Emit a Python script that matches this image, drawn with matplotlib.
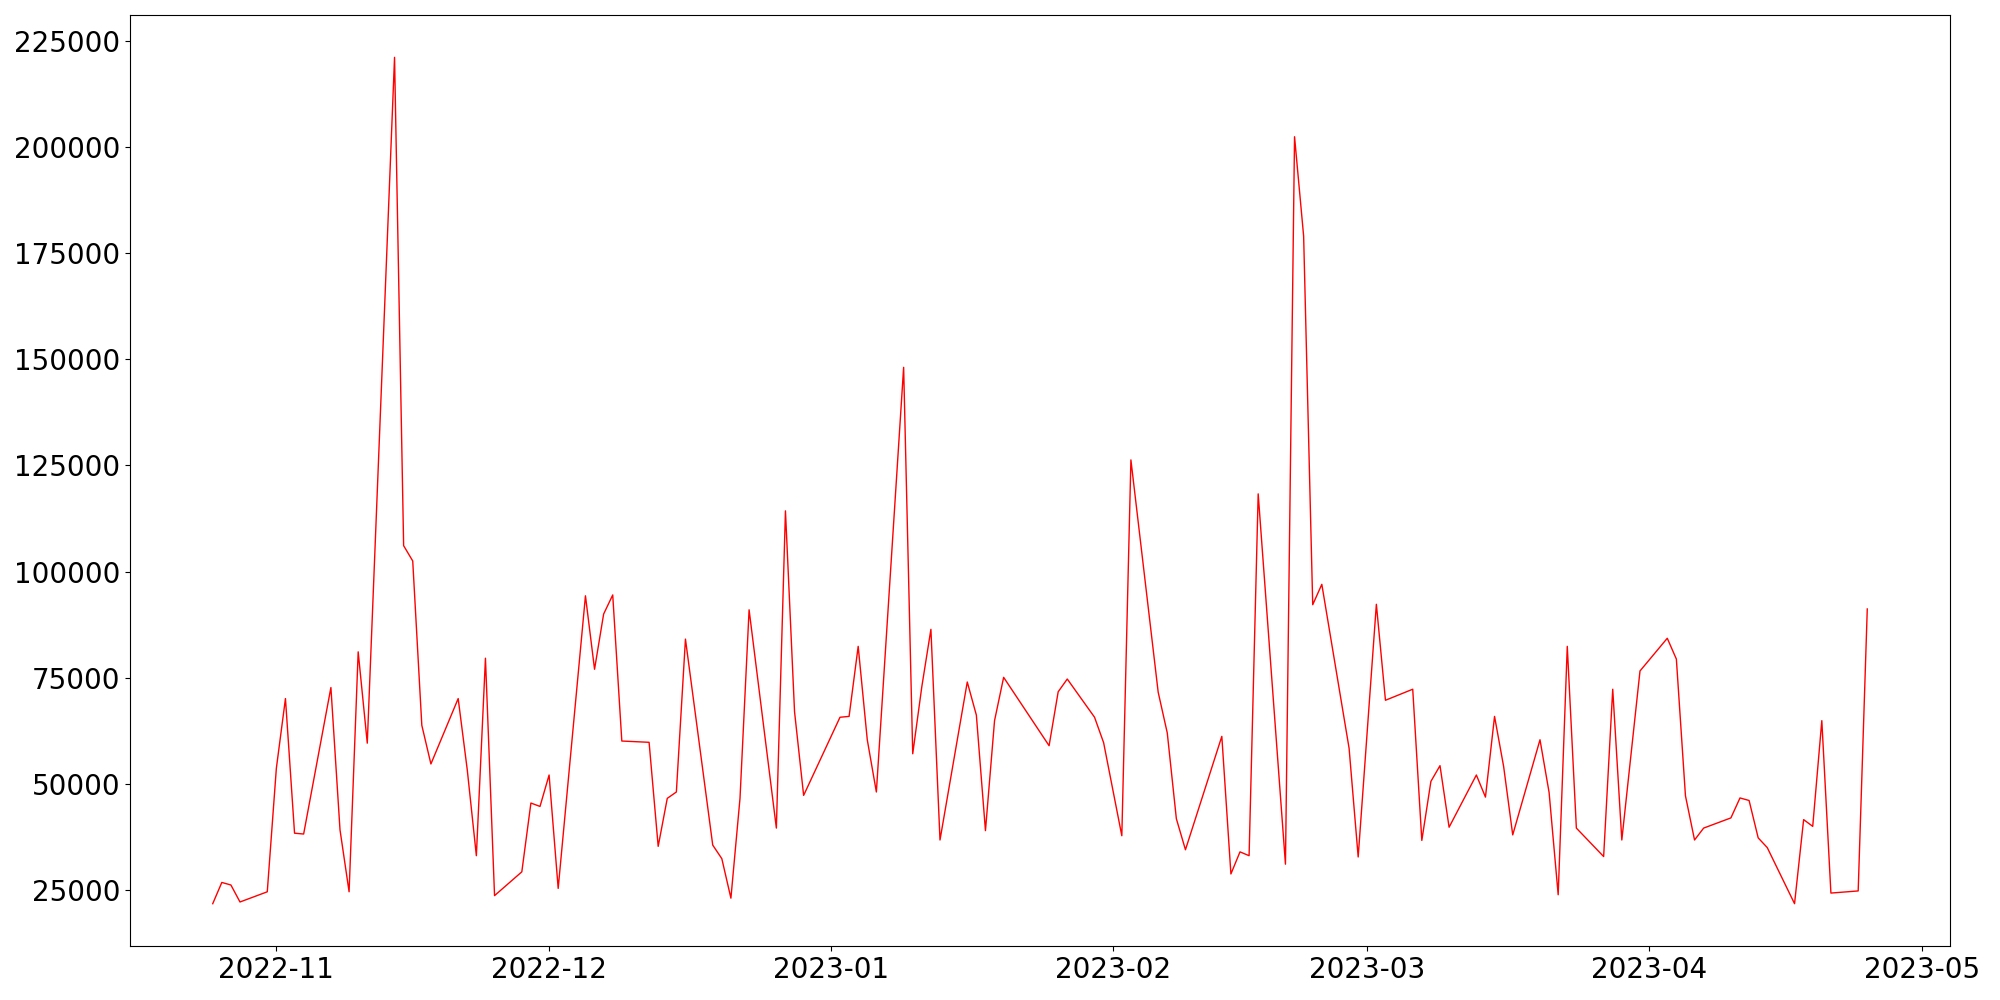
import matplotlib
matplotlib.use("Agg")
import matplotlib.pyplot as plt
import pandas as pd

# daily values (weekdays only, gaps kept as in source)
dates = [
    "2022-10-25", "2022-10-26", "2022-10-27", "2022-10-28", "2022-10-31",
    "2022-11-01", "2022-11-02", "2022-11-03", "2022-11-04", "2022-11-07",
    "2022-11-08", "2022-11-09", "2022-11-10", "2022-11-11", "2022-11-14",
    "2022-11-15", "2022-11-16", "2022-11-17", "2022-11-18", "2022-11-21",
    "2022-11-22", "2022-11-23", "2022-11-24", "2022-11-25", "2022-11-28",
    "2022-11-29", "2022-11-30", "2022-12-01", "2022-12-02", "2022-12-05",
    "2022-12-06", "2022-12-07", "2022-12-08", "2022-12-09", "2022-12-12",
    "2022-12-13", "2022-12-14", "2022-12-15", "2022-12-16", "2022-12-19",
    "2022-12-20", "2022-12-21", "2022-12-22", "2022-12-23", "2022-12-26",
    "2022-12-27", "2022-12-28", "2022-12-29", "2023-01-02", "2023-01-03",
    "2023-01-04", "2023-01-05", "2023-01-06", "2023-01-09", "2023-01-10",
    "2023-01-11", "2023-01-12", "2023-01-13", "2023-01-16", "2023-01-17",
    "2023-01-18", "2023-01-19", "2023-01-20", "2023-01-25", "2023-01-26",
    "2023-01-27", "2023-01-30", "2023-01-31", "2023-02-02", "2023-02-03",
    "2023-02-06", "2023-02-07", "2023-02-08", "2023-02-09", "2023-02-13",
    "2023-02-14", "2023-02-15", "2023-02-16", "2023-02-17", "2023-02-20",
    "2023-02-21", "2023-02-22", "2023-02-23", "2023-02-24", "2023-02-27",
    "2023-02-28", "2023-03-02", "2023-03-03", "2023-03-06", "2023-03-07",
    "2023-03-08", "2023-03-09", "2023-03-10", "2023-03-13", "2023-03-14",
    "2023-03-15", "2023-03-16", "2023-03-17", "2023-03-20", "2023-03-21",
    "2023-03-22", "2023-03-23", "2023-03-24", "2023-03-27", "2023-03-28",
    "2023-03-29", "2023-03-31", "2023-04-03", "2023-04-04", "2023-04-05",
    "2023-04-06", "2023-04-07", "2023-04-10", "2023-04-11", "2023-04-12",
    "2023-04-13", "2023-04-14", "2023-04-17", "2023-04-18", "2023-04-19",
    "2023-04-20", "2023-04-21", "2023-04-24", "2023-04-25",
]

values = [
    21800, 26800, 26200, 22200, 24600,
    53700, 70100, 38400, 38200, 72700,
    39200, 24600, 81100, 59600, 221100,
    106100, 102500, 63800, 54700, 70100,
    53300, 33100, 79600, 23700, 29300,
    45500, 44700, 52100, 25400, 94300,
    77000, 90000, 94500, 60100, 59800,
    35300, 46600, 48100, 84100, 35600,
    32400, 23100, 46600, 91000, 39600,
    114300, 67000, 47300, 65700, 65900,
    82400, 60400, 48100, 148100, 57100,
    72900, 86400, 36800, 74000, 66200,
    39000, 64900, 75100, 59000, 71700,
    74700, 65700, 59700, 37800, 126300,
    71600, 62000, 41800, 34500, 61200,
    28800, 34000, 33100, 118300, 31100,
    202400, 179000, 92200, 97000, 58400,
    32800, 92300, 69700, 72300, 36700,
    50600, 54300, 39800, 52100, 46900,
    65900, 54100, 38000, 60400, 48000,
    23900, 82400, 39600, 32900, 72300,
    36800, 76600, 84300, 79400, 47200,
    36800, 39600, 42000, 46700, 46100,
    37300, 35000, 21800, 41600, 40000,
    64900, 24300, 24800, 91200,
]

x = pd.to_datetime(dates)

fig, ax = plt.subplots(figsize=(20, 10), dpi=100)
fig.subplots_adjust(left=0.065, right=0.975, top=0.985, bottom=0.054)

ax.plot(x, values, color="red", linewidth=1.0)

ax.tick_params(axis="both", labelsize=20)

fig.savefig("out.png", dpi=100)
plt.close(fig)
